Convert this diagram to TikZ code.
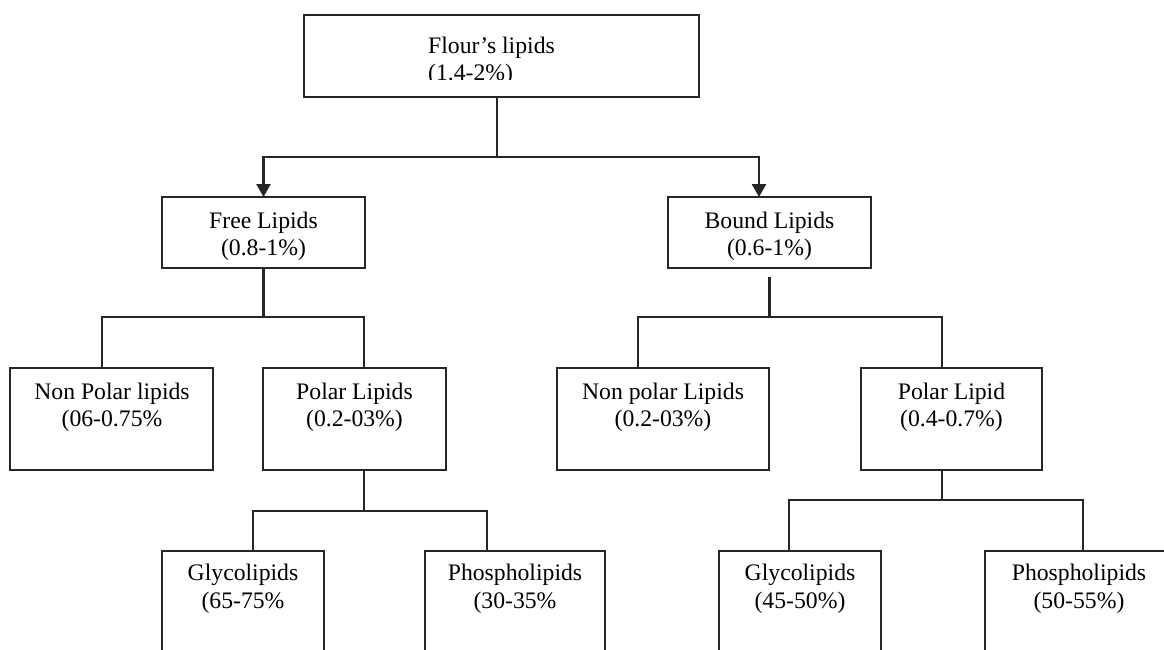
\documentclass[tikz,border=0pt]{standalone}
\usepackage{fontspec}
\setmainfont{Liberation Serif}
\usetikzlibrary{arrows.meta}
\definecolor{ink}{RGB}{38,38,38}
\begin{document}
\begin{tikzpicture}[x=1pt,y=-1pt,
  box/.style={draw=ink, line width=2.6pt, fill=white, inner sep=0pt, outer sep=0pt, anchor=north west},
  lbl/.style={font=\fontsize{23.7}{27.5}\selectfont, align=center, anchor=base, inner sep=0pt, text=black},
  link/.style={draw=ink, line width=2.6pt},
  arr/.style={link, -{Triangle[width=14pt,length=13pt]}}]
\clip (0,0) rectangle (1164,650);

% boxes
\node[box, minimum width=395pt, minimum height=82pt]  (top)   at (304,15)  {};
\node[box, minimum width=203pt, minimum height=71pt]  (free)  at (162,197) {};
\node[box, minimum width=203pt, minimum height=71pt]  (bound) at (668,197) {};
\node[box, minimum width=203pt, minimum height=102pt] (np1)   at (10,368)  {};
\node[box, minimum width=183pt, minimum height=102pt] (p1)    at (263,368) {};
\node[box, minimum width=212pt, minimum height=102pt] (np2)   at (557,368) {};
\node[box, minimum width=181pt, minimum height=102pt] (p2)    at (861,368) {};
\node[box, minimum width=162pt, minimum height=115pt] (g1)    at (162,551) {};
\node[box, minimum width=180pt, minimum height=115pt] (ph1)   at (425,551) {};
\node[box, minimum width=162pt, minimum height=115pt] (g2)    at (719,551) {};
\node[box, minimum width=188pt, minimum height=115pt] (ph2)   at (985,551) {};

% labels (anchored on the baseline of the second line)
\begin{scope}
  \clip (304,15) rectangle (699,80);
  \node[lbl, align=left, anchor=base west] (topT) at (428,81) {Flour’s lipids\\(1.4-2\%)};
\end{scope}
\node[lbl] (freeT)  at (263.5,255.5) {Free Lipids\\(0.8-1\%)};
\node[lbl] (boundT) at (769.5,255.5) {Bound Lipids\\(0.6-1\%)};
\node[lbl] (np1T)   at (112,426.5)   {Non Polar lipids\\(06-0.75\%};
\node[lbl] (p1T)    at (354.5,426.5) {Polar Lipids\\(0.2-03\%)};
\node[lbl] (np2T)   at (663,426.5)   {Non polar Lipids\\(0.2-03\%)};
\node[lbl] (p2T)    at (951.5,426.5) {Polar Lipid\\(0.4-0.7\%)};
\node[lbl] (g1T)    at (243,608)     {Glycolipids\\(65-75\%};
\node[lbl] (ph1T)   at (515,608)     {Phospholipids\\(30-35\%};
\node[lbl] (g2T)    at (800,608)     {Glycolipids\\(45-50\%)};
\node[lbl] (ph2T)   at (1079,608)    {Phospholipids\\(50-55\%)};

% first split, with arrows
\coordinate (j0) at (497,157);
\draw[link] ([xshift=-4.5pt]top.south) -- (j0);
\draw[arr] (j0) -| (free.north);
\draw[arr] (j0) -| ([xshift=-10.5pt]bound.north);

% free lipids split
\coordinate (j1) at (263.5,317);
\draw[link] (free.south) -- (j1);
\draw[link] (j1) -| ([xshift=-9.5pt]np1.north);
\draw[link] (j1) -| ([xshift=9.5pt]p1.north);

% bound lipids split
\coordinate (b0) at (769.5,277);
\coordinate (j2) at (769.5,317);
\draw[link] (b0) -- (j2);
\draw[link] (j2) -| ([xshift=-25pt]np2.north);
\draw[link] (j2) -| ([xshift=-9.5pt]p2.north);

% polar lipids (free) split
\coordinate (j3) at (364,511);
\draw[link] ([xshift=9.5pt]p1.south) -- (j3);
\draw[link] (j3) -| ([xshift=10pt]g1.north);
\draw[link] (j3) -| ([xshift=-28pt]ph1.north);

% polar lipid (bound) split
\coordinate (j4) at (942,500);
\draw[link] ([xshift=-9.5pt]p2.south) -- (j4);
\draw[link] (j4) -| ([xshift=-11pt]g2.north);
\draw[link] (j4) -| ([xshift=4pt]ph2.north);
\end{tikzpicture}
\end{document}
